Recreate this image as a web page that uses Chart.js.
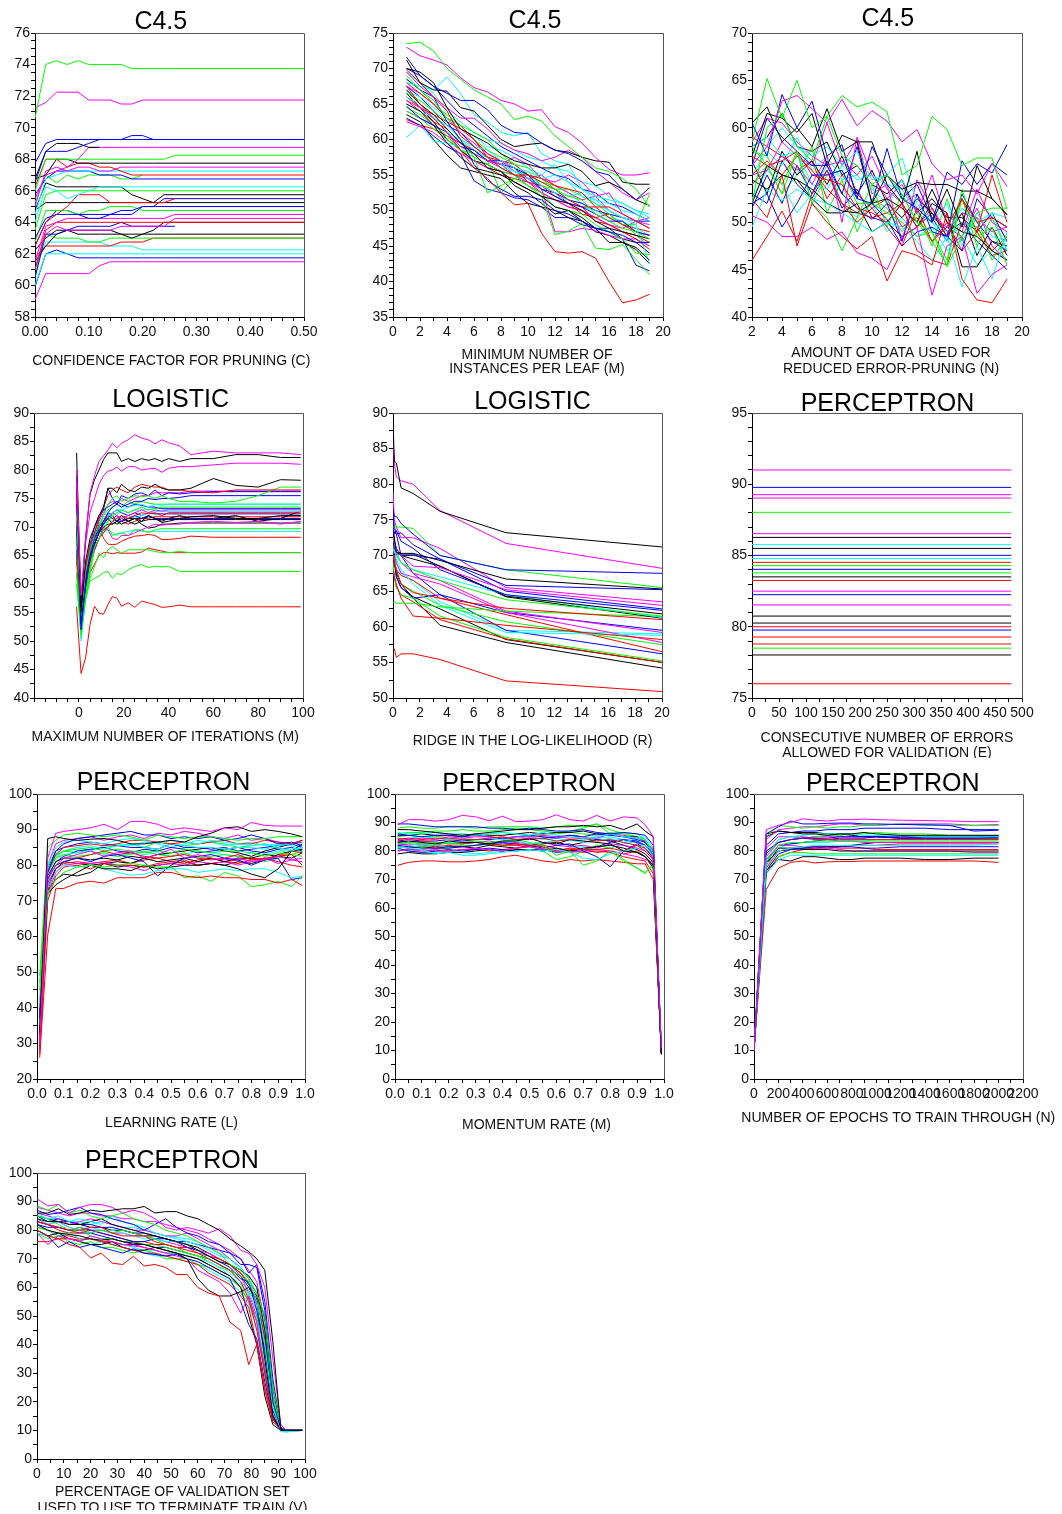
<!DOCTYPE html>
<html>
<head>
<meta charset="utf-8">
<script src="https://cdn.jsdelivr.net/npm/chart.js@4.4.1/dist/chart.umd.min.js"></script>
<style>
html { margin: 0; padding: 0; background: #fff; overflow: hidden; }
body { margin: 0; padding: 0; background: #fff; overflow: hidden; width: 1062px; height: 1510px; position: relative; }
canvas { position: absolute; }
</style>
</head>
<body>
<script>
// C4.5 - confidence factor
const c45ConfX = [0, 0.02, 0.04, 0.06, 0.08, 0.10, 0.12, 0.14, 0.16, 0.18, 0.20, 0.22, 0.24, 0.26, 0.50];
const c45ConfY = [
    [70.6, 74, 74.25, 74, 74.25, 74, 74, 74, 74, 73.75, 73.75, 73.75, 73.75, 73.75, 73.75],
    [71.25, 71.6, 72.25, 72.25, 72.25, 71.75, 71.75, 71.75, 71.5, 71.5, 71.75, 71.75, 71.75, 71.75, 71.75],
    [67.75, 69, 69.25, 69.25, 69.25, 69.25, 69.25, 69.25, 69.25, 69.5, 69.5, 69.25, 69.25, 69.25, 69.25],
    [66.5, 68.5, 68.5, 68.5, 68.75, 69, 69.25, 69.25, 69.25, 69.25, 69.25, 69.25, 69.25, 69.25, 69.25],
    [66.75, 68.5, 69, 69, 69, 68.75, 68.75, null, null, null, null, null, null, null, null],
    [65.5, 67, 67.25, 67.5, 68, 68.75, 68.75, 68.75, 68.75, 68.75, 68.75, 68.75, 68.75, 68.75, 68.75],
    [66, 68, 68, 68, 68, 68, 68, 68, 68, 68, 68, 68, 68, 68.25, 68.25],
    [66.75, 67, 68, 68, 67.75, 67.75, 67.75, 67.75, 67.75, 67.75, 67.75, 67.75, 67.75, 67.75, 67.75],
    [66.25, 68, 68, 67.5, 67.75, 67.75, 67.5, 67.5, 67.25, 67, 67, 67, 67, 67, 67],
    [65, 67.25, 67.5, 67.25, 67.5, 67.5, 67.25, 67.25, 67.5, 67.5, 67.5, 67.5, 67.5, 67.5, 67.5],
    [64.5, 66.75, 67, 67.25, 67.25, 67.25, 67.25, 67.25, 67.25, 67.25, 67.25, 67.25, 67.25, 67.25, 67.25],
    [65.75, 66.75, 67.25, 67.25, 67.25, 67.25, 67, 67, 67, 66.75, 66.75, 66.75, 66.75, 66.75, 66.75],
    [65.25, 67, 66.5, 67, 66.75, 67, 67, 67, 66.75, 66.75, 67, null, null, null, null],
    [64, 66.25, 66, 65.5, 65.75, 66, 66.25, 66.25, 66.25, 66.25, 66.25, 66.25, 66.25, 66.25, 66.25],
    [64.75, 66.5, 66.25, 66.25, 66.25, 66.25, 66.25, 66.25, 66.25, 65.75, 65.5, 65.25, 65.75, 65.75, 65.75],
    [63.5, 65.75, 66, 66, 66, 66, 66, 66, 66, 66, 66, 66, 66, 66, 66],
    [62.5, 64, 64.5, 65, 65.75, 65.75, 65.75, 65.25, 65.25, 65.25, 65.25, 65.25, 65.25, 65.5, null],
    [64.75, 65.25, 65.25, 65.25, 65.25, 65.25, 65.25, 65.25, 65.25, 65.25, 65.25, 65.25, 65.25, 65.25, 65.25],
    [63, 64.25, 64.5, 64.5, 64.5, 64.5, 64.5, 64.5, 64.75, 64.75, 65, 65, 65.5, 65.5, 65.5],
    [62.75, 64.75, 64.75, 64.75, 64.5, 64.75, 64.75, 65, 65, 65, 64.75, 64.75, 64.75, 64.75, 64.75],
    [62.5, 64, 64.75, 64.75, 64.5, 64.25, 64.25, 64.5, 64.5, 64.5, 65, 65, 65, 65, 65],
    [61.5, 63.75, 64, 64.25, 64.25, 64.25, 64.25, 64.25, 64.25, 64.25, 64.25, 64.25, 64.25, 64.5, 64.5],
    [61, 63.5, 64, 64, 64, 64, 64, 64, 64, 64, 64, 64, 64, 64, 64],
    [61, 63.25, 63.75, 63.5, 63.5, 63.5, 63.5, 63.5, 63.75, 63.75, 63.75, 63.75, 63.75, 64.25, 64.25],
    [60.5, 63.25, 63.25, 63.5, 63.75, 63.75, 63.75, 63.75, 64, 63.75, 63.75, 63.75, 63.75, 63.75, null],
    [61.5, 62.5, 63.25, 63.5, 63.5, 63.5, 63.5, 63.5, 63.25, 63, 63.25, 63.5, 64, 64, 64],
    [62.25, 63, 63.5, 63.5, 63.25, 63.25, 63.25, 63.25, 63.25, 63.25, 63.25, 63.25, 63.25, 63.25, 63.25],
    [60.5, 63.25, 63, 63, 63, 62.75, 62.75, 63, 63, 63, 63, 63, 63, 63, 63],
    [61.75, 62.5, 62.5, 62.5, 62.5, 62.5, 62.5, 62.5, 62.75, 62.75, 62.75, 63, 63, 63, 63],
    [61, 62.75, 62.75, 62.75, 62.75, 62.75, 62.75, 62.5, 62.5, 62.5, 62.25, 62.25, 62.25, 62.25, 62.25],
    [60, 62, 62, 62, 62, 62, 62, 62, 62, 62, 62, 62, 62, 62, 62],
    [59.9, 62, 62.25, 62, 61.75, 61.75, 61.75, 61.75, 61.75, 61.75, 61.75, 61.75, 61.75, 61.75, 61.75],
    [59.1, 60.75, 60.75, 60.75, 60.75, 60.75, 61.25, 61.5, 61.5, 61.5, 61.5, 61.5, 61.5, 61.5, 61.5]
];
const c45ConfColors = 'gmbbkmgkrmcbgckgrkbgbmrmbkkgrccbm';

// C4.5 - min instances per leaf
const c45LeafX = [1, 2, 3, 4, 5, 6, 7, 8, 9, 10, 11, 12, 13, 14, 15, 16, 17, 18, 19];
const c45LeafY = [
    [73.5, 73.7, 72.5, 70, 68.5, 67, 66, 65, 62.8, 63.3, 62.6, 60.5, 59, 57.5, 56, 55.5, 54.5, 53, 50.5],
    [73, 71.8, 71.2, 70.5, 68.7, 67.3, 66.7, 65.5, 65, 64, 64.2, 61.8, 61, 59.5, 57.5, 55.8, 55, 55, 55.3],
    [71.6, 69, 67.5, 66.5, 65.5, 65.5, 64.2, 62, 61, 60.8, 59.5, 58.5, 58, 57, 55.5, 55, 53, 51.5, 53.2],
    [71.2, 68, 67, 66.8, 64.5, 64, 62, 60, 59, 59.3, 59.5, 58.5, 58.2, 57.5, 57, 56.8, 54, 53.7, 53.7],
    [70, 69.5, 68, 64.5, 61.5, 60.5, 59.5, 58, 57, 56.5, 56, 56, 56.5, 55.5, 53.5, 54, 53, 51.5, 50.7],
    [69.8, 68, 66, 64, 60.5, 59, 57.5, 56, 55, 55, 54.5, 53.5, 53, 52.5, 50.5, 50.5, 49.5, 48.5, 47.5],
    [69.5, 67.5, 66, 64.5, 63, 63, 61.5, 59.5, 58.5, 58, 57, 57.5, 58.5, 57.5, 55.5, 54, 52.5, 51.5, 52.5],
    [68, 67.5, 67, 68.8, 66.5, 63.5, 62.5, 61, 60.5, 61, 58, 57, 56.5, 53, 52, 51.5, 51, 50, 49],
    [69, 67, 65.5, 63, 62, 61, 60, 58, 56.5, 56, 54.5, 53, 52, 51.5, 49.5, 48.5, 47.5, 47, 46],
    [67.5, 65, 63, 61, 58.5, 56, 54.5, 52.5, 50.8, 51, 46.8, 44.2, 44, 44.2, 43.3, 40, 37, 37.4, 38.2],
    [68.5, 67, 66, 62.5, 60, 56.5, 54.2, 53, 52, 52, 51.5, 50, 49.5, 48.5, 47.5, 47, 46.5, 45.5, 45.5],
    [67, 65, 63.5, 61.5, 59.5, 58, 56, 55.5, 54, 53, 52, 50.5, 50, 49, 47.5, 45.5, 45.5, 44.8, 43],
    [66.5, 65.5, 64, 62.5, 60, 57.5, 52.5, 53.5, 54.5, 53.5, 52, 46.6, 47.1, 48.2, 44.7, 44.5, 45.2, 43.1, 41],
    [66, 65, 63, 61, 60, 59, 58.5, 57, 56, 55.5, 54.5, 55, 54, 52, 51.5, 51, 50, 49.5, 48.5],
    [65.5, 64.5, 63, 61, 59, 58, 57, 56.5, 57.5, 56.5, 54.5, 54, 55, 54, 52, 52.5, 49.5, 48.5, 48],
    [65, 64, 62, 59.5, 57.5, 56, 55.5, 55, 54, 53, 52, 51.5, 51, 50, 48.5, 47.5, 47, 46.5, 46],
    [64.7, 63, 62, 61, 59, 58.5, 57, 57, 56, 55, 53, 52, 51, 50.5, 49.5, 48.5, 48.5, 47, 46.5],
    [66, 64.5, 63.5, 62.5, 61.5, 60, 57.5, 57, 56.5, 55, 54, 53, 51.5, 50.5, 48.5, 48, 47, 46, 44.5],
    [64.5, 63.5, 62, 60.5, 58.5, 57.5, 56.5, 55.5, 55, 53.5, 52.5, 50.5, 50, 49.5, 48, 47, 46, 44, 43.8],
    [62.5, 61.8, 61, 59.5, 58, 57, 56, 55.5, 55, 54, 53, 47, 47, 47.5, 47.2, 46.5, 46, 46, 45],
    [60.3, 62, 59.8, 59.5, 59, 58, 57.5, 56.5, 55.5, 55, 53.5, 52.5, 52, 52.5, 51, 50, 49, 48, 42.5],
    [63.5, 62.5, 60, 57.8, 56, 55.5, 55, 54.5, 52.5, 51, 50.5, 50, 49, 48.5, 47, 46.5, 45.5, 44.5, 42.5],
    [63, 62, 60.5, 59, 58, 54.2, 53, 52.5, 51.8, 51.5, 50.5, 49, 49, 48, 47.5, 47.5, 46, 42.3, 41.5],
    [68, 66.5, 65, 63, 62, 60, 58, 57, 56, 54, 53.5, 52, 51, 50.5, 50.5, 49, 48, 47, 46.5],
    [66.8, 66, 64.5, 63, 61.5, 60.5, 59, 58.5, 57.5, 56, 55, 56.5, 54, 53, 51.5, 50, 49, 48.5, 47.5],
    [64, 63, 61.5, 60, 58.5, 58, 57, 52.5, 54.5, 55.5, 53.5, 53, 53, 52, 51, 49.5, 48, 48, 52.3],
    [65, 64, 63, 62, 60, 58.5, 57.5, 56, 55.5, 54.5, 53.5, 52, 51.5, 50.5, 50, 49, 48.5, 47.5, 46.5],
    [67.5, 66.5, 65, 63, 61, 59.5, 58, 57, 55.5, 54.5, 55, 53.5, 52.5, 51.5, 52, 50, 49, 48.5, 47.5],
    [66.5, 64.5, 62.5, 60, 58.5, 57, 56.5, 55.5, 53.5, 52.5, 51, 49.5, 50, 48.5, 47.5, 47, 46, 45.5, 44],
    [65.5, 64, 62.5, 61.5, 59.5, 58.5, 57, 56.5, 55, 54.5, 53.5, 52.5, 51, 49.5, 49, 49.5, 48, 47.5, 47],
    [67.5, 66, 64, 62, 61, 59, 57.5, 56.5, 56, 54.5, 53, 52.5, 51.5, 51, 50, 49.5, 49, 48.5, 48.5],
    [68.5, 67, 65, 63.5, 62, 60, 58.5, 57.5, 56.5, 55, 54, 53.5, 52.5, 51, 50, 49, 48.5, 46.5, 45],
    [69.5, 68, 66.5, 64, 62.5, 61, 60, 59.5, 58.5, 57.5, 57, 56, 55.5, 54, 53.5, 52, 51, 50, 49.5],
    [64, 63, 62, 60.5, 59.5, 58.5, 57, 56, 55, 53.5, 52.5, 51.5, 50.5, 50, 49, 48, 47.5, 48.5, 49],
    [62.8, 62, 61.5, 60.5, 58.5, 57, 56, 55, 54.5, 54, 52.5, 51.5, 50.5, 50, 49, 48, 47, 46.5, 45.5],
    [70, 69, 67.5, 65.5, 63.5, 62, 60.5, 59, 58, 57, 56, 55, 54.5, 53, 52.5, 51, 50.5, 49.5, 48.5]
];
const c45LeafColors = 'gmbkkrmcgrbkgcmkbrgmckbrcgcmkrbgcmrb';

// C4.5 - reduced error pruning folds
const c45FoldX = [2, 3, 4, 5, 6, 7, 8, 9, 10, 11, 12, 13, 14, 15, 16, 17, 18, 19];
const c45FoldY = [
    [58.5, 65.2, 61, 65, 60, 61.2, 57, 56, 54, 55, 53, 50, 49, 45.3, 48.5, 51, 51.5, 51.5],
    [52, 60, 61.5, 58, 56.5, 61.2, 63.4, 62.2, 62.7, 61.7, 55, 56, 61.2, 59.8, 56, 56.8, 56.8, 51.4],
    [56, 58, 62.8, 63.4, 62, 60.5, 63, 60.2, 61.8, 60.7, 58.5, 59.8, 56.2, 54.5, 55, 53, 56.2, 53.8],
    [60.5, 57, 63.5, 60, 62.8, 57, 58.2, 52.5, 58, 55, 52.5, 51.5, 50, 55.3, 54, 56.2, 55.2, 58.2],
    [60.5, 62.2, 58.5, 60, 58, 62, 57.5, 58.5, 58.5, 54, 52, 57.5, 50, 53.5, 49.5, 56, 52.5, 50.8],
    [57, 61.5, 61, 59.5, 61.5, 56, 59.2, 58.5, 52, 55, 53.5, 54.2, 54, 54, 53.3, 53.3, 52.5, 50.8],
    [46, 48.5, 51.2, 48, 53, 55.5, 52, 50, 51.5, 49.5, 47.5, 51.5, 48, 49.5, 52.5, 50, 50.5, 49.5],
    [52.5, 50.5, 55, 47.5, 52, 50, 48.5, 47.2, 48.5, 43.8, 47, 46.5, 45.5, 51, 44, 41.8, 41.5, 44],
    [50.7, 50, 48.5, 48.5, 49.5, 48.2, 49, 46.8, 46.2, 45, 48.5, 49.5, 42.3, 47.5, 48.5, 42.5, 44.5, 45.5],
    [49.5, 53.5, 52.3, 53.5, 52.5, 52, 51, 50, 49, 50, 49.5, 48, 46, 48.5, 43.2, 47.5, 44, 49],
    [56, 58, 60, 58, 57, 58, 56, 57.5, 54.5, 55, 56.8, 52, 50, 49, 51.5, 50, 51, 47],
    [52, 53, 49.5, 52, 55, 55, 55.5, 52.5, 52, 50.3, 47.5, 49, 49.5, 48.5, 56.5, 54, 56.2, 55],
    [58, 56, 53, 57.5, 52, 50.5, 47, 50.5, 54, 49.5, 53, 50, 48, 45.5, 53.5, 48.5, 49.5, 45.5],
    [52, 56, 55, 54.5, 53.5, 52, 51.2, 51, 52, 52.5, 51.5, 50, 53.5, 50, 49, 48.5, 47, 46],
    [57, 56, 56.5, 57.5, 55, 54.5, 54, 51.5, 51, 50, 52, 49.5, 51.5, 48.5, 52.5, 49, 55, 50],
    [55, 55.5, 57, 56, 54, 57, 50, 59, 55, 52.5, 54, 51, 55, 50, 49, 53.5, 50, 49],
    [51.5, 55, 52, 56, 53, 56.5, 53, 51.5, 50.3, 52, 48, 53, 49, 48.5, 47, 52.5, 50.5, 49.5],
    [57.5, 57, 54, 57.5, 52, 55, 55.5, 52, 52, 51, 50, 48.5, 49, 46, 52.5, 47.5, 50.5, 47],
    [58, 59, 57, 57.5, 54, 53.5, 56, 54.5, 55, 54, 53.5, 51, 50, 48, 50, 49.5, 51, 50.5],
    [54.5, 53.5, 55, 54.5, 52.5, 51, 51, 52, 49, 50, 48.5, 49.5, 52, 51, 45.3, 45.3, 48, 47.5],
    [55, 56.5, 55, 57, 55.5, 53.5, 52, 51, 50.5, 51, 52, 47, 46, 45.5, 50, 49.5, 47, 48.5],
    [56, 61, 59, 57.5, 56, 56, 53, 58, 52, 57.8, 52.5, 54, 50.5, 48, 53, 50, 48, 47],
    [54, 55.5, 58.5, 57, 56, 60.5, 56, 58.8, 53, 54, 48, 54.5, 51.5, 49, 51, 50.5, 49, 49.5],
    [55, 57.5, 56, 59, 55.5, 57, 54.5, 55, 53.5, 52, 54.5, 51.5, 50, 52, 47.5, 51, 48.5, 48],
    [56.5, 53, 57.5, 55, 56.5, 54, 57, 53, 55.5, 52, 50.5, 52.5, 51, 48.5, 51, 46.5, 49.5, 46.5],
    [54, 56, 53, 55, 58, 51, 54.5, 49, 52.5, 51.5, 49, 51, 47.5, 52.5, 48, 50.5, 46, 48.5],
    [58.5, 61, 60.5, 58.5, 57, 56, 56.5, 55, 57, 53.5, 52, 53, 50.5, 49.5, 48.5, 51.5, 47.5, 46],
    [53, 52, 56.5, 54, 52.5, 55.5, 51.5, 53.5, 50.5, 50, 52, 49.5, 51, 49, 50, 48, 46.5, 45],
    [59, 58, 57, 55.5, 56.5, 52.5, 55, 53, 51.5, 52.5, 49.5, 50.5, 48, 50, 47, 49, 46.5, 47],
    [52.5, 55.5, 54, 51, 53, 56, 52, 50.5, 52, 49, 50.5, 48.5, 49.5, 47, 48.5, 45.5, 47, 46],
    [58, 59, 61.5, 58, 57.5, 58.5, 55, 56, 54, 53, 54.5, 51, 52.5, 50.5, 50.5, 49, 51, 48]
];
const c45FoldColors = 'ggmbkkrrmccbgkrmbgckrbmckgmbrck';

// Logistic - max iterations
const logIterX = [-1, 1, 3, 5, 7, 9, 11, 13, 15, 17, 19, 22, 25, 28, 31, 34, 37, 40, 45, 50, 60, 70, 80, 90, 99];
const logIterY = [
    [80, 58, 68, 76, 79, 81.5, 82.5, 83.5, 84.7, 83.9, 84.7, 85.3, 86.2, 85.6, 85.3, 84.6, 85.3, 84.8, 84.2, 82.7, 83.3, 83, 83, 83, 82.7],
    [83, 56, 68, 75.7, 78.3, 80, 81.8, 83, 83, 83, 81.5, 82, 81.5, 82, 81.7, 82, 81.5, 82, 81.5, 82, 82, 82.7, 82.7, 82.2, 82.2],
    [78, 57, 67, 72.5, 75, 77.5, 79, 79.8, 80, 80.5, 79.8, 80.6, 80.6, 80, 80.2, 80.3, 79.6, 80.3, 80.6, 80.6, 80.9, 81.2, 81.2, 81.2, 81],
    [79, 55, 64, 68, 70, 72, 73.5, 76.8, 76.8, 76, 77.5, 76.5, 76.2, 77, 76.8, 77.5, 76.8, 76.5, 76.5, 76.8, 78.5, 77.3, 77, 78.3, 78.2],
    [76, 56, 63, 67, 69, 71.5, 73.5, 75.5, 76.5, 77, 76.5, 76, 77, 77.5, 77.2, 77, 77, 76.5, 76.5, 76.2, 76, 76.5, 76.5, 76.5, 76.5],
    [72, 55, 62, 66, 68.5, 70, 72, 74, 75, 75.5, 74.5, 75, 75.5, 75.3, 75.5, 75, 75.5, 75, 74.5, 74.5, 74.2, 74.5, 75.5, 77, 77],
    [74, 53, 61, 66, 69, 71.5, 73, 76.8, 75, 74, 75.5, 75, 75.8, 76, 75.5, 76.5, 75.5, 76, 75.8, 76, 76.2, 76.2, 76.2, 76.2, 76.2],
    [70, 52, 60, 65, 68, 70, 71, 72.5, 73.5, 74, 73.5, 74, 74.5, 74.5, 75, 74.8, 75, 75, 75.2, 75.5, 75.5, 75.5, 75.5, 75.5, 75.5],
    [73, 54, 62, 66, 68, 70, 71.5, 72, 72.5, 73, 73, 73.5, 73.8, 74, 73.5, 74, 73.8, 74, 74, 74, 74, 74, 74, 74, 74],
    [68, 51, 58, 63, 66.5, 68, 69.5, 71, 72, 72.5, 73, 72.5, 73, 73.5, 73, 73.2, 73.5, 73.5, 73.5, 73.5, 73.5, 73.5, 73.5, 73.5, 73.5],
    [75, 55, 63, 67, 68, 70, 71, 72, 72.5, 72, 71.5, 72, 72.5, 73, 72.5, 73, 72.8, 73, 73, 73, 73, 73, 73, 73, 73],
    [65, 54, 60, 64, 66, 68, 69, 70, 71, 71.5, 72, 71.5, 72, 72.5, 72.3, 72.5, 72, 72.5, 72.5, 72.5, 72.5, 72.5, 72.5, 72.5, 72.5],
    [74, 56, 62, 66, 68, 69.5, 70.5, 71.5, 70.5, 71, 72, 71, 70.5, 71, 72, 71.5, 70.8, 71, 71.5, 71.8, 72, 71.5, 71.5, 72, 72],
    [71, 52, 59, 64, 67, 69, 71, 72.5, 72, 71, 71, 71.5, 72, 71.5, 71.8, 71.5, 71.5, 71.5, 71.5, 71.5, 71.5, 71.5, 71.5, 71.5, 71.5],
    [72, 53, 60, 64, 66, 68, 70, 69.5, 68, 67.8, 68.5, 68.5, 69, 69.5, 70, 70.5, 70.3, 70.5, 70.5, 70.8, 71, 70.8, 71, 70.5, 71],
    [77, 55, 61, 65, 67, 69, 70, 70.5, 70.5, 71, 70.5, 71, 71.5, 70.5, 69.8, 70, 70.5, 70.5, 70.7, 70.7, 70.7, 70.7, 70.7, 70.7, 70.7],
    [62, 52, 58, 62, 66, 68, 69, 70, 68.5, 68.8, 69, 68.5, 69.5, 69.5, 69, 69.5, 69.7, 69.7, 69.7, 69.7, 69.7, 69.7, 69.7, 69.7, 69.7],
    [70, 50, 58, 63, 66, 68, 69, 69.5, 69, 68.5, 69, 69.2, 69.5, 69.2, 69.2, 69.2, 69.2, 69.2, 69.2, 69.2, 69.2, 69.2, 69.2, 69.2, 69.2],
    [68, 53, 59, 64, 67, 70.4, 68, 67, 66.9, 67, 67.5, 68, 68.4, 68.5, 68.7, 68.5, 67.8, 67.8, 68, 68.4, 68.2, 68.2, 68.2, 68.2, 68.2],
    [60, 51, 57, 61, 63, 65.4, 64.6, 66, 66.6, 66, 65.4, 66, 66, 66, 66, 65.7, 65.5, 65.5, 65.7, 65.5, 65.5, 65.5, 65.5, 65.5, 65.5],
    [64, 52, 58, 62, 63.5, 65, 65.5, 65.5, 65.3, 65.5, 65.4, 65.4, 65.4, 65.6, 66.3, 66, 65.8, 65.5, 65.5, 65.5, 65.5, 65.5, 65.5, 65.5, 65.5],
    [62, 50.5, 57.5, 60.5, 61, 61.4, 62, 62.2, 61, 61.9, 61.6, 62.5, 63.1, 63.4, 62.9, 63.1, 63, 63.1, 62.2, 62.2, 62.2, 62.2, 62.2, 62.2, 62.2],
    [56, 44.3, 47, 52.9, 56.1, 54.9, 54.7, 56.4, 57.8, 57.5, 56.1, 56.7, 55.9, 57, 56.7, 56.4, 55.9, 56, 56.3, 56, 56, 56, 56, 56, 56],
    [76, 54, 62, 67, 70, 72, 73, 73.5, 74, 74.5, 74, 73.5, 74, 73.8, 73.5, 73.5, 73.2, 73.2, 73.2, 73.2, 73.2, 73.2, 73.2, 73.2, 73.2],
    [68, 52, 59, 64, 67, 69.5, 70.5, 71.5, 71, 71.5, 71.5, 72, 71.5, 72, 72.5, 72.7, 72.7, 72.7, 72.7, 72.7, 72.7, 72.7, 72.7, 72.7, 72.7],
    [66, 54, 61, 66, 68.5, 70, 71, 72, 71.5, 71, 71.5, 71, 71.5, 71.5, 72, 71.5, 71, 71.5, 72, 71.5, 71.5, 72, 71, 71.5, 72.8],
    [70, 53, 60, 65, 68, 70.5, 72, 73, 73.5, 74, 73.5, 74.5, 74, 74.5, 74.2, 74, 74, 74, 74, 74, 74, 74, 74, 74, 74],
    [66, 51, 58, 63, 66, 68, 70, 71, 72.5, 72, 73, 72.5, 73, 73, 73, 73.3, 73.3, 73.3, 73.3, 73.3, 73.3, 73.3, 73.3, 73.3, 73.3],
    [73, 54, 61, 65, 68, 71, 72.5, 74, 74.5, 74, 75, 74.5, 75, 75.5, 75.5, 76, 76, 76, 76, 76.3, 76.3, 76.3, 76.3, 76.3, 76.3],
    [72, 53, 60, 64, 67, 69, 70.5, 71.5, 72.5, 73, 72.5, 72, 72.5, 72, 72.5, 72.3, 72.3, 72.3, 72.3, 72.3, 72.3, 72.3, 72.3, 72.3, 72.3],
    [70, 55, 61, 65, 67, 69, 70.5, 72, 71.5, 72, 71, 70.5, 71, 71.5, 71.5, 71.8, 71.8, 71.8, 71.8, 71.8, 71.8, 71.8, 71.8, 71.8, 71.8],
    [69, 53, 59, 63, 66, 68, 69.5, 70, 71, 70.5, 71, 71.5, 71.5, 71, 71.3, 71.3, 71.3, 71.3, 71.3, 71.3, 71.3, 71.3, 71.3, 71.3, 71.3]
];
const logIterColors = 'mkmkrgbbcgmrkbmkgcrgrgrbckgcmbrk';

// Logistic - ridge
const logRidgeX = [0, 0.1, 0.25, 0.6, 1.5, 3.5, 8.4, 20];
const logRidgeY = [
    [89, 83.2, 83, 79.5, 78.7, 76.2, 73.2, 71.2],
    [86.2, 83, 81, 80.5, 80, 76.3, 71.7, 68.2],
    [76.5, 75.5, 75.5, 74.5, 73, 70, 68, 67.5],
    [74, 74, 74, 74, 73.8, 70, 68, 65.5],
    [73, 72.5, 70.5, 70.3, 70.3, 69.3, 66.7, 65.3],
    [76, 74, 73, 73.2, 71.5, 69.5, 65.8, 65.2],
    [79, 75, 74, 72.5, 72.5, 71, 65.5, 63.5],
    [73, 72, 71, 70, 68.5, 68.3, 65.2, 63],
    [72, 71, 70.5, 70, 70, 69.5, 65, 62.5],
    [74, 73, 73.5, 72, 71, 68, 64.5, 62.3],
    [75, 72, 71, 70, 69.5, 68.5, 64.3, 61.8],
    [72.5, 71.5, 70.5, 69, 68, 66.5, 63.8, 61.5],
    [71, 70.5, 70, 69, 68, 67, 64.5, 61.3],
    [70, 70.2, 70.2, 70.2, 70.2, 68.5, 64.2, 61.2],
    [71, 69, 68, 66, 64.8, 64, 62.6, 61],
    [63.3, 63.5, 63.3, 63.3, 63.3, 62.8, 62.2, 61.4],
    [68, 67, 66, 64, 61.5, 61.2, 60.2, 58.2],
    [74, 72, 70, 69, 67.5, 66.5, 62.2, 59.2],
    [72.5, 71, 69.5, 68, 66, 63, 59.2, 58.8],
    [70, 69, 68, 67.2, 66.5, 64, 61.7, 56.5],
    [72, 70, 69, 67.5, 67, 66, 62, 57.8],
    [70.5, 69.5, 68, 66, 65, 63, 60.7, 57.5],
    [69, 67, 65.5, 64.5, 64, 61.5, 58.5, 55.2],
    [71, 70, 67, 65.5, 64, 64.5, 59.5, 56.2],
    [68.5, 67, 65.5, 64.5, 63.5, 61, 58.3, 55],
    [72, 69, 67.5, 66, 64, 60.2, 57.8, 54.2],
    [71, 69, 67, 65.5, 64.2, 62.5, 58.2, 55],
    [57, 56.9, 55.7, 56.2, 56.2, 55.4, 52.4, 50.9],
    [72, 70.5, 69, 67.5, 66.5, 63.5, 59.5, 59],
    [73.5, 73.3, 73, 70, 67.5, 64.5, 62, 59.5]
];
const logRidgeColors = 'kmbgkbmmbbkgckrgrmcrmggbrkkrcb';

// Perceptron - consecutive validation errors (flat)
const percErrX = [0, 480];
const percErrLevels = [91, 89.78, 89.27, 89.03, 88.03, 86.53, 86.27, 85.76, 85.5, 85.01, 84.78, 84.52, 84.29, 84.03, 83.78,
    83.5, 83.25, 82.5, 82.25, 81.53, 80.75, 80.26, 80, 79.77, 79.28, 78.79, 78.5, 78.02, 76];
const percErrColors = 'mbmmgmkckbcrgbgkrmbmkkrbrrgkr';

// Perceptron - learning rate
const percRateX = [0.01, 0.04, 0.07, 0.1, 0.15, 0.2, 0.25, 0.3, 0.35, 0.4, 0.45, 0.5, 0.55, 0.6, 0.65, 0.7, 0.75, 0.8, 0.85, 0.9, 0.95, 0.99];
const percRateY = [
    [30, 82, 89, 89.5, 90, 90.5, 91.5, 90, 92.3, 92.3, 91.5, 90, 90.5, 90, 89.5, 90.5, 90, 92, 91.2, 91, 91, 91],
    [33, 87.5, 88, 87.5, 87, 87.3, 87.5, 87, 86, 86, 86.5, 87, 86.5, 88, 89, 90.5, 90.8, 89.5, 90, 89.5, 88.8, 88],
    [49, 85, 87, 88.5, 89, 88.5, 88, 88.5, 88, 87, 88.5, 88, 87.5, 88, 88, 87.5, 87, 87.5, 87.5, 88, 88, 88],
    [37, 78, 84, 86, 87.5, 88, 88.5, 89, 89.5, 88.5, 88.5, 87.5, 88, 87.5, 88, 87, 87.5, 88.5, 87.5, 86, 86.5, 85.5],
    [35, 80, 85, 86.5, 87, 86.5, 86, 87, 87.5, 87, 86, 87, 86.5, 86, 87, 86.5, 86, 85.5, 86, 85, 84, 85],
    [30, 78, 83, 85, 85.5, 86, 85.5, 86, 87, 87, 86.5, 86, 86.5, 86, 86.5, 87, 86, 86, 87, 86.5, 86, 87],
    [26, 60.5, 73.4, 73.5, 75, 75.5, 75, 76.5, 76.5, 76.5, 78, 78, 77, 76.5, 77, 76.5, 76.5, 76, 76, 75, 76, 74.3],
    [40, 72, 76, 78, 79.5, 80, 79.5, 80, 80.5, 80, 79.5, 79.5, 76.5, 77, 75.5, 78, 77, 74, 74.5, 75.5, 74, 77],
    [34, 72, 74.5, 76, 78, 80, 79, 79, 78.5, 80, 79, 79.5, 80, 80, 80.5, 80, 79, 77.5, 76.5, 79, 84, 84.5],
    [36, 74, 78, 80, 79.5, 80, 79, 78, 77.2, 77.5, 78.5, 79, 79, 78, 78.5, 79, 78.5, 79, 79, 78, 76.5, 77],
    [31, 76, 80, 82, 83, 84, 82.5, 83.5, 84, 82, 83, 84.5, 82, 83, 82, 81.5, 82, 81, 81.5, 82.5, 81.5, 82],
    [38, 74, 79, 81, 82, 81, 82.5, 83, 82, 81, 77, 80, 82, 82.5, 83, 82, 81.5, 80, 81.5, 82, 76, 76.5],
    [29, 75, 79, 81, 82, 83, 84, 83, 83.5, 82.5, 82, 82.5, 83, 82, 81.5, 82, 83, 81.5, 82, 82.5, 83, 80],
    [45, 80, 83, 84, 84.5, 85, 84, 84.5, 84, 83.5, 84, 83.5, 84.5, 84, 83.5, 84, 84, 83.5, 82.5, 83.5, 83, 82.5],
    [35, 77, 81, 82, 82, 81.5, 82, 81.5, 82.5, 82, 81, 81.5, 82, 81, 82, 81, 82, 82, 83, 82.5, 82, 83.5],
    [34, 79, 83, 84, 85, 85.5, 84.5, 85.5, 86, 85, 84.5, 86, 85.5, 85, 85, 84.5, 85, 85, 84.5, 85.5, 86, 86],
    [36, 79, 84, 85, 86, 86.5, 86, 85.5, 85, 85, 84.5, 86, 85, 85, 84.5, 85, 84, 84.5, 85, 85.5, 86, 85],
    [28, 72, 78, 80, 80.5, 80.5, 81, 80, 79.5, 78.5, 80, 80.5, 80, 81, 80.5, 81, 80, 81, 82, 80.5, 81.5, 81],
    [27, 70, 77, 79.5, 80, 79, 80.5, 80, 80, 79.5, 80.5, 81, 81.5, 80, 80.5, 81, 81.5, 82, 81.5, 82.5, 84, 83.5],
    [32, 73, 76, 77.5, 77, 78, 80.5, 81, 80.5, 82, 83, 83.5, 84, 84.5, 85, 84, 83.5, 82.5, 84, 85, 86, 87],
    [42, 78, 82, 83, 82.5, 83, 83.5, 82.5, 83, 84, 83, 82.5, 83.5, 82, 82.5, 83, 82.5, 82, 81, 82, 84, 84.5],
    [33, 75, 81, 83, 83.5, 84, 83, 82.5, 83.5, 83, 83.5, 82.5, 83, 84, 83.5, 83, 82.5, 83.5, 83, 84, 84.5, 85],
    [39, 76, 81, 82.5, 84, 84.5, 85, 84, 83.5, 84.5, 84, 85, 84.5, 83.5, 84, 84.5, 85, 84, 83.5, 84.5, 85, 84],
    [32, 80, 86, 87, 87.5, 88, 87, 88, 88.5, 87.5, 89, 88.5, 89.5, 89, 88, 87.5, 88.5, 87, 87.5, 86.5, 86, 86.5],
    [28, 73, 79, 80.5, 81, 80.5, 81, 81.5, 80.5, 81.5, 82, 81, 80.5, 81.5, 82, 81, 80.5, 81.5, 82, 81, 80, 79.5],
    [36, 76, 80, 81, 80.5, 80, 80.5, 79.5, 80, 79.5, 80, 80.5, 81, 80, 80.5, 80, 81, 80.5, 81.5, 83, 84, 86],
    [37, 78, 82, 84, 85, 84, 85.5, 86, 85.5, 86.5, 86, 85, 86, 87, 86.5, 85.5, 86, 86.5, 85.5, 86, 85.5, 84.5],
    [47, 79, 82.5, 84, 83.5, 84.5, 85, 85.5, 86, 85, 86.5, 86, 85.5, 86, 86.5, 86, 85, 85.5, 86, 84.5, 83, 84]
];
const percRateColors = 'mkgbcrrgkcmbrgkcbmrkgcbmrkcg';

// Perceptron - momentum
const percMomX = [0.01, 0.05, 0.1, 0.15, 0.2, 0.25, 0.3, 0.35, 0.4, 0.45, 0.5, 0.55, 0.6, 0.65, 0.7, 0.75, 0.8, 0.85, 0.9, 0.93, 0.96, 0.99];
const percMomY = [
    [89.2, 91, 91, 90.5, 91, 92.5, 92, 90.6, 92.2, 90.3, 90.5, 91, 92.7, 91, 90.5, 92.5, 90.5, 92, 91.6, 89.2, 85.1, 10.8],
    [87.5, 87.5, 87, 86.5, 86, 85.5, 86, 86.5, 87, 87.5, 87.5, 88, 88.5, 88.5, 89, 88.5, 89, 87.5, 89.5, 87, 85, 8.5],
    [89.5, 89.5, 89, 88.5, 88.5, 88.5, 88.5, 88, 88, 87.5, 88, 87.5, 87, 87, 87.5, 86.5, 86, 86.5, 86, 85.5, 82, 10.5],
    [88, 88.5, 88, 88, 88.5, 88.5, 88, 88.5, 88.5, 88.5, 88.5, 88, 88.5, 89, 88.5, 89.5, 86, 86.5, 86, 84, 80, 11],
    [86.5, 86, 86, 86.5, 86, 86, 85.5, 86, 86.5, 86, 85.5, 86.5, 85.5, 85, 84.5, 85, 86, 85, 84.5, 84, 79, 11],
    [84, 84.5, 84, 84.5, 84.5, 84, 84, 84.5, 85, 84, 84.5, 84.5, 83.5, 84, 84.5, 83.5, 84, 83, 82, 80, 77, 10],
    [84.5, 84, 84.5, 84, 85, 84.5, 85, 85, 84.5, 85, 85, 85.5, 85, 84.5, 85, 84.5, 86, 85.5, 84.5, 83.5, 80.5, 9.5],
    [86, 85.5, 85, 85.5, 85.5, 85, 85.5, 85, 84.5, 85, 85.5, 85, 84.5, 85.5, 85, 86, 85.5, 85, 84, 83, 79.5, 10],
    [83, 83.5, 83, 82.5, 83.5, 83, 83, 82.5, 83.5, 83.5, 84.5, 83, 82.5, 84, 83.5, 83, 82.5, 80, 79.5, 78, 75, 9.5],
    [82.5, 83, 82.5, 83, 82.5, 83, 83.5, 83, 83.5, 84, 83, 82, 78.5, 80, 75, 76.5, 80, 76.5, 74, 72.5, 75, 10],
    [81.5, 81, 80.5, 79, 79.5, 78.5, 78.5, 79, 79.5, 80, 80.5, 80, 80.5, 79.5, 77.5, 77, 79, 80, 81, 82, 78, 10.5],
    [83.5, 83, 83.5, 83, 82.5, 82.5, 83, 82.5, 82, 82.5, 82, 81.5, 80, 80.5, 80.5, 80.5, 81, 80, 82, 81, 78, 9.5],
    [82, 81.5, 81, 81, 81.5, 81.5, 82, 82.5, 83, 82.5, 82, 81, 82, 82.5, 80, 78, 74.5, 80, 82.5, 81, 77.5, 10],
    [80, 80.5, 80, 80.5, 80, 80.5, 81, 80.5, 80, 81, 81.5, 80.5, 80, 79.5, 80, 80.5, 80, 79, 78, 77, 76, 10],
    [79, 79.5, 79, 79, 79.5, 79.5, 80, 80.5, 80, 80.5, 80.5, 80, 81, 80, 81, 81.5, 82, 81, 79.5, 78, 74, 9],
    [75, 76, 76.5, 76.5, 76.2, 76.2, 76.5, 77, 78, 78.5, 77.5, 76.5, 76, 77, 76.5, 77, 76.5, 76, 75.5, 75.5, 70, 10],
    [81, 81.5, 81.5, 82, 81.5, 82, 82, 82.5, 82, 82.5, 82, 80, 77, 78, 80, 82, 81, 77, 74, 72, 76, 10.5],
    [83, 82.5, 82, 82.5, 83, 82.5, 83, 82.5, 83, 83.5, 82.5, 83, 83.5, 84, 83, 83.5, 84.5, 83, 84.5, 85, 81, 11],
    [81, 80, 79.5, 80, 80.5, 80, 80.5, 81, 80.5, 80, 80.5, 80.5, 79.5, 80, 80.5, 81.5, 83, 84, 83, 82, 79, 10.5],
    [80, 80.5, 80.5, 80, 80, 80.5, 80.5, 80, 80.5, 81, 81.5, 82, 81, 80, 79.5, 80, 79.5, 78, 77, 76.5, 72, 9],
    [85.5, 85.5, 86, 85.5, 85.5, 85, 86, 85.5, 85.5, 86, 86.5, 86, 86.5, 86.5, 87, 86, 86, 85, 85, 83, 80, 9],
    [84, 84.5, 85, 84.5, 84, 84.5, 84, 84.5, 84, 84.5, 85, 84, 84.5, 83.5, 84, 84.5, 85, 84, 83, 82, 79, 10],
    [85, 85.5, 85, 85, 85.5, 86, 85.5, 86, 86.5, 86, 85.5, 86, 86, 86.5, 86, 85.5, 86.5, 86, 85, 83.5, 80, 11],
    [82.5, 82, 82.5, 82, 83, 82.5, 83, 83.5, 82.5, 83, 82.5, 83, 82, 81.5, 82, 81, 82.5, 82, 81, 80, 77, 9.5],
    [83.5, 84, 83.5, 83.5, 84, 83.5, 84, 84, 84.5, 84, 84, 84.5, 85, 85.5, 85, 84, 83.5, 84, 83.5, 82, 78.5, 10],
    [82, 82.5, 82, 81.5, 82, 81.5, 82, 82.5, 82, 82, 81.5, 80.5, 80, 81, 80.5, 79.5, 80, 79, 80, 78, 74.5, 9],
    [81.5, 81, 81.5, 81, 81, 81.5, 81, 82, 81.5, 81, 82, 82.5, 83, 82, 83, 84, 83.5, 82, 80.5, 79, 76, 9],
    [80.5, 80, 79.5, 79.5, 80, 79.5, 79, 79.5, 80, 80.5, 80, 81, 80.5, 81, 81.5, 80.5, 81, 82.5, 83.5, 82, 79.5, 10.5],
    [86, 86.5, 86.5, 87, 87, 87.5, 87, 87, 87.5, 88, 87.5, 87, 86.5, 87, 88, 89.5, 87.5, 86, 85, 84, 80, 11]
];
const percMomColors = 'mkbgcrmbkgcrbmkrgcbrkcgmbrkcg';

// Perceptron - epochs
const percEpochX = [0, 100, 200, 300, 400, 500, 600, 700, 800, 900, 1000, 1200, 1400, 1600, 1800, 2000];
const percEpochY = [
    [10, 87.5, 89, 90, 91.3, 90.8, 90.5, 91, 91, 91.2, 91, 90.8, 90.7, 90.5, 90.3, 90.3],
    [10, 86, 88.5, 90.5, 89.5, 89.5, 89.7, 89.8, 89.8, 89.5, 89.5, 89.3, 89.2, 89, 87, 87.3],
    [10, 85, 89, 88.5, 88, 88.5, 88, 88.5, 88.5, 89, 89, 89.5, 89, 89, 89, 89],
    [10, 84, 87.5, 88, 88.5, 88.5, 89, 89.5, 89.5, 89, 89, 89.5, 89.5, 89.5, 89, 89.3],
    [10, 86, 87, 86.5, 86, 86, 85.5, 86, 86, 86.5, 86, 85.5, 85.5, 85.5, 85.5, 85.5],
    [10, 78, 84, 85, 85.5, 86, 86, 86, 86, 85.5, 85.5, 85.5, 85, 85, 85, 85],
    [10, 80, 83, 84, 84.5, 84.5, 84.5, 85, 85, 85, 85, 84.5, 84.5, 84.5, 84.5, 84.8],
    [10, 85, 87, 86.5, 86.5, 86.5, 86, 86, 85.5, 85, 85, 84.5, 84.5, 84.5, 84.5, 84.5],
    [10, 79, 83, 84, 84.5, 84, 84, 84, 84, 84, 84, 84, 84, 84, 84, 84],
    [10, 76, 82, 83, 83, 83.5, 83.5, 83.5, 83.5, 83.5, 83.5, 83.5, 83.5, 83.5, 83.5, 83.5],
    [10, 81, 85, 85, 85, 84.5, 84, 83.5, 83.5, 83, 83, 83, 83, 83, 83, 83],
    [10, 75, 80, 81, 81.5, 82, 82, 82, 82, 82, 82, 82, 82, 82, 82, 82.5],
    [10, 73, 79, 80.5, 81, 81.5, 81.5, 81.5, 81.5, 81, 81, 81.5, 81.5, 81.5, 81.5, 81.5],
    [10, 74, 80, 81, 81.5, 81.5, 81.5, 81, 81, 81, 80.5, 80.5, 80.5, 80.5, 80.5, 80.5],
    [10, 75, 81, 81, 80.5, 80.5, 80.5, 80, 80, 80, 80, 80, 80, 80, 80, 80],
    [10, 77, 82, 82, 81.5, 81, 81, 80.5, 80, 80, 80, 80, 80, 80, 79.5, 79.5],
    [10, 74, 78, 79.5, 79.5, 79, 79, 79, 79, 79, 79, 79, 79, 79, 79, 79],
    [10, 72, 77, 78.5, 78.5, 78.5, 78.5, 78.5, 78.5, 78.5, 78.5, 78.5, 78.5, 78.5, 78.5, 78.5],
    [10, 73, 77, 76.5, 78, 78, 77.5, 77, 77, 77.5, 77.5, 77.5, 77, 77, 77.5, 77.5],
    [10, 66.5, 74, 76, 76.5, 75.8, 76.2, 76.3, 76.3, 76.5, 76.5, 76.5, 76.5, 76.5, 76.5, 76],
    [10, 76, 82, 82.5, 83, 83.5, 84, 84.5, 84.5, 84.5, 85, 85, 85, 85, 85, 85.3],
    [10, 77, 81, 82.5, 83, 83, 83, 83.5, 83.5, 83.5, 84, 84, 84, 84, 84, 84],
    [10, 79, 84, 85, 84.5, 85, 85.5, 85.5, 86, 86, 86.5, 86, 86, 85.5, 85.5, 85.5],
    [10, 78, 83, 84, 84.5, 85, 85, 85, 85, 85, 85, 84.5, 85, 85, 85, 85],
    [10, 72, 78, 79.5, 80.5, 81, 81, 81.5, 82, 82, 82, 82.5, 82.5, 82.5, 82.5, 82.5],
    [10, 82, 86, 86.5, 87, 87, 87.5, 87.5, 87.5, 88, 88, 88, 88, 87.5, 87.5, 87.5],
    [10, 76, 80, 80.5, 81, 81, 81.5, 81.5, 82, 82.5, 83, 83, 83, 83, 83, 83]
];
const percEpochColors = 'mbgmkcbkrgmcbrkmgckrbcgmrbk';

// Perceptron - validation set size
const percValX = [0, 4, 8, 12, 16, 20, 24, 28, 32, 36, 40, 44, 48, 52, 56, 60, 64, 68, 72, 76, 79, 82, 85, 88, 91, 93, 99];
const percValY = [
    [86, 86, 87.5, 85.5, 86, 87, 86.5, 87, 87.5, 87.5, 88.3, 86, 86.5, 86.5, 85, 84, 82, 80, 77, 74.5, 72.5, 70, 66, 41, 10, 10, 10],
    [91, 88.5, 89, 86, 88, 89, 89, 88, 86, 87, 86, 84, 81, 80, 81, 80, 79, 80.5, 78, 73, 72, 68, 60, 35, 12, 10, 10],
    [88.5, 87, 89, 86, 87, 85, 84, 85, 86, 84, 83, 82, 80, 79, 78, 76, 74, 72, 68, 66, 63, 58, 50, 25, 12, 10, 10],
    [87, 85.5, 86, 87, 88, 86, 85.5, 84, 83, 82, 80, 82, 84, 81, 79, 78, 76, 75, 72, 68, 68, 67, 52, 20, 10.5, 10, 10],
    [86, 84, 85, 83, 84, 83, 82, 85, 83, 82, 81, 79, 78, 77, 76, 75, 73, 71, 70, 67, 63, 55, 40, 18, 10, 9.5, 10],
    [84, 83, 83, 82, 82, 83, 84, 82, 81, 80, 79, 78, 77, 76, 75, 73, 71, 69, 68, 66, 64, 60, 45, 15, 10, 10, 10],
    [83, 82, 81, 80, 80, 81, 81, 79, 78, 78, 78, 76, 75, 74, 73, 72, 70, 68, 66, 62, 56, 45, 30, 15, 11, 10, 10],
    [80, 78, 77, 75, 74, 70.3, 72, 68.5, 68, 70.9, 67.5, 68, 67, 64.5, 64.5, 60, 58, 57, 47.8, 45, 33, 40, 25, 14, 10.5, 10, 10],
    [82, 80, 79, 78.5, 78, 77, 76.5, 77, 76, 75.5, 75, 74, 73, 72, 70, 63, 59, 57, 57, 58.5, 60, 56, 35, 15, 10.5, 10, 10],
    [80, 78, 74, 76, 74, 75, 74, 73, 72, 73.5, 72, 71.5, 71, 71.5, 70, 69, 67, 65, 63, 55, 47, 42, 27, 14, 10.5, 10, 10],
    [79, 75, 78, 77, 76, 78, 77, 76, 75, 74.5, 74, 73, 72, 71, 70, 66, 64, 62, 58, 51, 57, 48, 30, 14, 10, 10, 10],
    [85, 84, 82, 80, 81, 79, 80, 79, 80, 79, 78, 77, 75, 74, 72, 71, 70, 68, 66, 64, 62, 56, 45, 22, 11, 10, 10],
    [84, 82, 83, 81, 80, 81, 80, 80, 79, 78, 77, 77, 76, 76, 75, 73, 70, 68, 65, 62, 57, 48, 35, 16, 10, 9.5, 10],
    [83, 82, 81, 80, 81, 80, 79, 78, 77, 76, 76, 77, 77, 76, 74, 73, 71, 69, 67, 63, 62, 52, 38, 17, 10, 10, 10],
    [76, 76, 77, 77, 76.5, 77, 76, 75, 74, 73, 72, 72, 71, 70, 69, 68, 65, 63, 61, 57, 53, 40, 24, 13, 10.5, 10, 10],
    [86, 85, 84, 82, 83, 84, 83, 82, 81, 80, 80, 79, 78, 78, 79, 77, 75, 73, 70, 67, 63, 54, 40, 16, 10, 10, 10],
    [80, 78, 79, 77, 76, 75, 75, 76, 74, 73, 73, 74, 73, 72, 71, 70, 68, 66, 64, 60, 50, 40, 22, 12, 10, 10, 10],
    [79, 77, 78, 76, 75, 76, 74, 74, 73, 72, 73, 72, 70, 70, 70, 68, 67, 65, 63, 60, 55, 50, 30, 14, 10, 10, 10],
    [82, 80, 78, 79, 77, 77, 76, 75, 75, 74, 73, 73, 72, 72, 71, 70, 69, 67, 64, 61, 58, 52, 36, 16, 9.5, 9.5, 10],
    [85, 83, 84, 83, 82, 82, 81, 81, 80, 79, 79, 78, 77, 76, 76, 75, 74, 73, 72, 70, 65, 68, 55, 28, 11, 10, 10],
    [84, 82, 80, 79, 79, 80, 79, 78, 77, 76, 76, 75, 75, 74, 74, 72, 71, 70, 68, 65, 62, 58, 42, 16, 10, 10, 10],
    [85, 84, 84, 83, 83, 82, 83, 82, 81, 81, 80, 79, 78, 77.5, 77, 76, 74, 72, 70, 66, 64, 60, 46, 20, 10, 9.5, 10],
    [83, 82, 83, 81, 80, 80, 80, 79, 79, 78, 78, 77, 76, 75, 74, 73, 72, 70, 68, 64, 58, 50, 38, 17, 10, 10, 10],
    [81, 80, 79, 79, 80, 78, 77, 77, 76, 76, 75, 75, 74, 73, 72, 71, 69, 67, 66, 62, 59, 54, 40, 18, 10.5, 10, 10],
    [82, 81, 81, 80, 79, 79, 78, 77, 76, 75, 75, 74, 74, 73, 72, 71, 70, 68, 66, 64, 60, 55, 42, 20, 10, 10, 10],
    [85, 84, 83, 83, 82, 81, 81, 80, 80, 79, 78, 78, 77, 76, 75, 74, 72, 70, 68, 65, 61, 57, 50, 25, 10, 10, 10],
    [81, 80, 78, 78, 77, 77, 76, 76, 75, 75, 74, 73, 72, 72, 71, 70, 68, 66, 64, 60, 55, 48, 32, 15, 10, 10, 10],
    [79, 78, 77, 77, 76, 75, 76, 75, 74, 73, 72, 71, 71, 70, 69, 68, 66, 64, 62, 58, 54, 46, 30, 14, 10, 9.5, 10],
    [88, 87, 86, 85, 86, 86, 85, 85, 84, 84, 83, 83, 82, 81, 80, 79, 77, 75, 73, 70, 66, 62, 48, 22, 11, 10, 10]
];
const percValColors = 'kmgbckrrkbmgcbrmkgcbrcmgbkrcm';

const palette = { r: '#ff0000', g: '#00ff00', b: '#0000ff', k: '#000000', m: '#ff00ff', c: '#00ffff' };
const FONT = '"Liberation Sans", Arial, sans-serif';

const panels = [
    { title: 'C4.5', xTitle: ['CONFIDENCE FACTOR FOR PRUNING (C)'], xs: c45ConfX, ys: c45ConfY, colors: c45ConfColors,
      rect: [35, 33, 304, 317], x: { min: 0, max: 0.5, step: 0.02, label: 0.1, dec: 2 }, y: { min: 58, max: 76, step: 0.5, label: 2 },
      titleDx: -8.7, titleGap: 3.7, xTitleDx: 1.8, xTitleDy: [44.5] },
    { title: 'C4.5', xTitle: ['MINIMUM NUMBER OF', 'INSTANCES PER LEAF (M)'], xs: c45LeafX, ys: c45LeafY, colors: c45LeafColors,
      rect: [393, 33, 663, 317], x: { min: 0, max: 20, step: 1, label: 2 }, y: { min: 35, max: 75, step: 1, label: 5 },
      titleDx: 7, titleGap: 5.4, xTitleDx: 9, xTitleDy: [38, 52.3] },
    { title: 'C4.5', xTitle: ['AMOUNT OF DATA USED FOR', 'REDUCED ERROR-PRUNING (N)'], xs: c45FoldX, ys: c45FoldY, colors: c45FoldColors,
      rect: [752, 33, 1022, 317], x: { min: 2, max: 20, step: 1, label: 2 }, y: { min: 40, max: 70, step: 1, label: 5 },
      titleDx: 0.8, titleGap: 6.7, xTitleDx: 4, xTitleDy: [36.3, 52.3] },
    { title: 'LOGISTIC', xTitle: ['MAXIMUM NUMBER OF ITERATIONS (M)'], xs: logIterX, ys: logIterY, colors: logIterColors,
      rect: [34, 413, 303, 698], x: { min: -20, max: 100, step: 5, label: 20, from: 0 }, y: { min: 40, max: 90, step: 2.5, label: 5 },
      titleDx: 2.2, titleGap: 5.6, xTitleDx: -3.3, xTitleDy: [38.7] },
    { title: 'LOGISTIC', xTitle: ['RIDGE IN THE LOG-LIKELIHOOD (R)'], xs: logRidgeX, ys: logRidgeY, colors: logRidgeColors,
      rect: [393, 413, 662, 698], x: { min: 0, max: 20, step: 1, label: 2 }, y: { min: 50, max: 90, step: 2.5, label: 5 },
      titleDx: 5, titleGap: 4.3, xTitleDx: 5, xTitleDy: [43] },
    { title: 'PERCEPTRON', xTitle: ['CONSECUTIVE NUMBER OF ERRORS', 'ALLOWED FOR VALIDATION (E)'], xs: percErrX,
      ys: percErrLevels.map(v => percErrX.map(() => v)), colors: percErrColors,
      rect: [752, 413, 1022, 698], x: { min: 0, max: 500, step: 25, label: 50 }, y: { min: 75, max: 95, step: 1, label: 5 },
      titleDx: 0.5, titleGap: 2.3, xTitleDx: 0, xTitleDy: [39.7, 55.3] },
    { title: 'PERCEPTRON', xTitle: ['LEARNING RATE (L)'], xs: percRateX, ys: percRateY, colors: percRateColors,
      rect: [37, 794, 305, 1079], x: { min: 0, max: 1, step: 0.05, label: 0.1, dec: 1 }, y: { min: 20, max: 100, step: 5, label: 10 },
      titleDx: -7.5, titleGap: 4.3, xTitleDx: 0.5, xTitleDy: [44.3] },
    { title: 'PERCEPTRON', xTitle: ['MOMENTUM RATE (M)'], xs: percMomX, ys: percMomY, colors: percMomColors,
      rect: [395, 794, 664, 1079], x: { min: 0, max: 1, step: 0.05, label: 0.1, dec: 1 }, y: { min: 0, max: 100, step: 5, label: 10 },
      titleDx: -0.5, titleGap: 3.3, xTitleDx: 7, xTitleDy: [46] },
    { title: 'PERCEPTRON', xTitle: ['NUMBER OF EPOCHS TO TRAIN THROUGH (N)'], xs: percEpochX, ys: percEpochY, colors: percEpochColors,
      rect: [754, 794, 1023, 1079], x: { min: 0, max: 2200, step: 100, label: 200 }, y: { min: 0, max: 100, step: 5, label: 10 },
      titleDx: 4.2, titleGap: 2.6, xTitleDx: 9.8, xTitleDy: [38.7] },
    { title: 'PERCEPTRON', xTitle: ['PERCENTAGE OF VALIDATION SET', 'USED TO USE TO TERMINATE TRAIN (V)'], xs: percValX, ys: percValY, colors: percValColors,
      rect: [37, 1173, 305, 1459], x: { min: 0, max: 100, step: 5, label: 10 }, y: { min: 0, max: 100, step: 5, label: 10 },
      titleDx: 0.9, titleGap: 5, xTitleDx: 1.4, xTitleDy: [32.7, 49.3] }
];

const PAD_L = 50, PAD_T = 40, PAD_R = 40, PAD_B = 60;

const makeAxis = (ax, horizontal) => ({
    type: 'linear',
    min: ax.min,
    max: ax.max,
    afterFit: s => {
        if (horizontal) s.height = PAD_B;
        else s.width = PAD_L;
    },
    border: { display: true, color: '#000', width: 1 },
    grid: { display: true, drawOnChartArea: false, drawTicks: true, tickLength: 4, color: '#000' },
    ticks: {
        stepSize: ax.step,
        maxTicksLimit: 1000,
        autoSkip: false,
        maxRotation: 0,
        minRotation: 0,
        padding: horizontal ? 3 : 1,
        color: '#111',
        font: { family: FONT, size: 14 },
        callback: v => {
            const k = v / ax.label;
            if (Math.abs(k - Math.round(k)) > 1e-6) return '';
            if (ax.from !== undefined && v < ax.from - 1e-9) return '';
            return ax.dec ? v.toFixed(ax.dec) : String(Math.round(v));
        }
    }
});

// frame on top/right plus panel title and axis caption
const makeFramePlugin = panel => ({
    id: 'frame',
    afterDraw(chart) {
        const { ctx, chartArea: a } = chart;
        ctx.save();
        ctx.strokeStyle = '#555';
        ctx.lineWidth = 1;
        ctx.beginPath();
        ctx.moveTo(a.left, a.top + 0.5);
        ctx.lineTo(a.right + 0.5, a.top + 0.5);
        ctx.lineTo(a.right + 0.5, a.bottom + 0.5);
        ctx.stroke();

        const cx = (a.left + a.right) / 2;
        ctx.fillStyle = '#000';
        ctx.textAlign = 'center';
        ctx.font = `25px ${FONT}`;
        ctx.textBaseline = 'alphabetic';
        ctx.fillText(panel.title, cx + panel.titleDx, a.top - panel.titleGap);

        ctx.fillStyle = '#111';
        ctx.font = `14px ${FONT}`;
        ctx.textBaseline = 'middle';
        panel.xTitle.forEach((line, i) => {
            ctx.fillText(line, cx + panel.xTitleDx, a.bottom + panel.xTitleDy[i]);
        });
        ctx.restore();
    }
});

const createPanel = panel => {
    const [L, T, R, B] = panel.rect;
    const canvas = document.createElement('canvas');
    canvas.width = R - L + PAD_L + PAD_R;
    canvas.height = B - T + PAD_T + PAD_B;
    canvas.style.left = (L - PAD_L) + 'px';
    canvas.style.top = (T - PAD_T) + 'px';
    document.body.appendChild(canvas);

    const datasets = panel.ys.map((ys, i) => ({
        data: panel.xs.map((x, j) => ({ x: x, y: ys[j] === undefined ? null : ys[j] })),
        borderColor: palette[panel.colors[i]] || '#000',
        borderWidth: 1,
        pointRadius: 0,
        pointHoverRadius: 0,
        fill: false,
        tension: 0
    }));

    return new Chart(canvas, {
        type: 'line',
        data: { datasets: datasets },
        options: {
            responsive: false,
            animation: false,
            events: [],
            layout: { padding: { left: 0, top: PAD_T, right: PAD_R, bottom: 0 } },
            plugins: {
                legend: { display: false },
                tooltip: { enabled: false },
                title: { display: false }
            },
            scales: {
                x: makeAxis(panel.x, true),
                y: makeAxis(panel.y, false)
            }
        },
        plugins: [makeFramePlugin(panel)]
    });
};

panels.forEach(createPanel);
</script>
</body>
</html>
